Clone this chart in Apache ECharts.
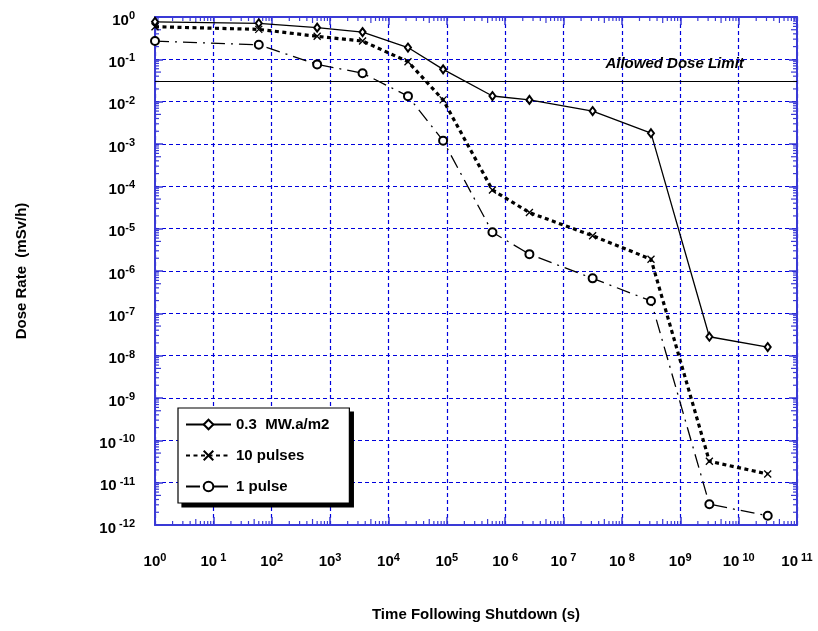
<!DOCTYPE html>
<html><head><meta charset="utf-8">
<script src="https://cdn.jsdelivr.net/npm/echarts@6/dist/echarts.min.js"></script>
<style>html,body{margin:0;padding:0;background:#fff}#c{width:818px;height:631px}</style>
</head><body><div id="c"></div>
<script>
const times = [1, 60, 600, 3600, 21600, 86400, 604800, 2.6e6, 3.15e7, 3.15e8, 3.15e9, 3.15e10];
const seriesNames = ['0.3  MW.a/m2', '10 pulses', '1 pulse'];
const doseFluence = [0.77, 0.71, 0.56, 0.44, 0.19, 0.058, 0.0136, 0.011, 0.006, 1.8e-3, 2.8e-8, 1.6e-8];
const dose10Pulses = [0.59, 0.51, 0.35, 0.27, 0.088, 0.011, 8.2e-5, 2.4e-5, 6.8e-6, 1.9e-6, 3.2e-11, 1.6e-11];
const dose1Pulse = [0.27, 0.22, 0.076, 0.047, 0.0135, 1.2e-3, 8.2e-6, 2.5e-6, 6.7e-7, 1.96e-7, 3.1e-12, 1.65e-12];
const doseLimit = 0.028;
const doseLimitLabel = 'Allowed Dose Limit';
const xTitle = 'Time Following Shutdown (s)';
const yTitle = 'Dose Rate  (mSv/h)';
const xMin = 1, xMax = 1e11, yMin = 1e-12, yMax = 1;
const spacedExponents = [1, 6, 7, 8, 10, 11, -10, -11, -12];

const FONT = '"Liberation Sans", Arial, sans-serif';
const AXIS_BLUE = '#3a3ad6';
const GRID_BLUE = '#0000dd';

function pairs(ys) { return times.map((t, i) => [t, ys[i]]); }
function expLabel(v) {
  const e = Math.round(Math.log10(v));
  return '{b|10}{s|' + (spacedExponents.indexOf(e) >= 0 ? ' ' : '') + e + '}';
}
const rich = {
  b: { fontFamily: FONT, fontWeight: 'bold', fontSize: 15, color: '#000' },
  s: { fontFamily: FONT, fontWeight: 'bold', fontSize: 11, color: '#000', verticalAlign: 'top', padding: [0, 0, 9, 0] }
};

const chart = echarts.init(document.getElementById('c'), null, { renderer: 'canvas' });
const gridPos = { left: 155, right: 21, top: 17, bottom: 106 };

function xAxisCfg(main) {
  return {
    type: 'log', logBase: 10, min: xMin, max: xMax, interval: 1,
    position: main ? 'bottom' : 'top',
    name: main ? xTitle : '', nameLocation: 'middle', nameGap: 82,
    nameTextStyle: { fontFamily: FONT, fontWeight: 'bold', fontSize: 15, color: '#000' },
    axisLine: { show: true, onZero: false, lineStyle: { color: AXIS_BLUE, width: 2 } },
    axisTick: { show: true, inside: true, length: 8, lineStyle: { color: AXIS_BLUE, width: 1.5 } },
    axisLabel: main ? { show: true, margin: 27, formatter: expLabel, rich: rich } : { show: false },
    splitLine: main ? { show: true, lineStyle: { color: GRID_BLUE, width: 1.2, type: [4, 3] } } : { show: false }
  };
}
function yAxisCfg(main) {
  return {
    type: 'log', logBase: 10, min: yMin, max: yMax, interval: 1,
    position: main ? 'left' : 'right',
    name: main ? yTitle : '', nameLocation: 'middle', nameGap: 126,
    nameTextStyle: { fontFamily: FONT, fontWeight: 'bold', fontSize: 15, color: '#000' },
    axisLine: { show: true, onZero: false, lineStyle: { color: AXIS_BLUE, width: 2 } },
    axisTick: { show: true, inside: true, length: 8, lineStyle: { color: AXIS_BLUE, width: 1.5 } },
    axisLabel: main ? { show: true, margin: 20, padding: [7, 0, 0, 0], formatter: expLabel, rich: rich } : { show: false },
    splitLine: main ? { show: true, lineStyle: { color: GRID_BLUE, width: 1.2, type: [4, 3] } } : { show: false }
  };
}

const option = {
  animation: false,
  backgroundColor: '#fff',
  grid: gridPos,
  xAxis: [xAxisCfg(true), xAxisCfg(false)],
  yAxis: [yAxisCfg(true), yAxisCfg(false)],
  legend: {
    orient: 'vertical', left: 178, top: 408, z: 10,
    padding: [9, 20, 9, 7], itemGap: 16, itemWidth: 45, itemHeight: 12,
    backgroundColor: '#fff', borderColor: '#000', borderWidth: 1.2,
    textStyle: { fontFamily: FONT, fontWeight: 'bold', fontSize: 15, color: '#000' },
    data: seriesNames
  },
  series: [
    {
      name: seriesNames[0], type: 'line', data: pairs(doseFluence),
      symbol: 'emptyDiamond', symbolSize: [6, 8],
      lineStyle: { color: '#000', width: 1.3, type: 'solid' },
      itemStyle: { color: '#000', borderColor: '#000', borderWidth: 1 },
      z: 5,
      markLine: {
        silent: true, symbol: ['none', 'none'],
        lineStyle: { color: '#000', width: 1, type: 'solid' },
        label: { show: false },
        data: [{ yAxis: doseLimit }]
      },
      markPoint: {
        symbol: 'circle', symbolSize: 0,
        label: { show: true, position: 'inside', formatter: doseLimitLabel, fontFamily: FONT, fontStyle: 'italic', fontWeight: 'bold', fontSize: 15, color: '#000' },
        data: [{ coord: [8e8, 0.08] }]
      }
    },
    {
      name: seriesNames[1], type: 'line', data: pairs(dose10Pulses),
      symbol: 'path://M0,0L10,10M10,0L0,10', symbolSize: 7,
      lineStyle: { color: '#000', width: 3.2, type: [4, 3.5] },
      itemStyle: { color: '#000', borderColor: '#000', borderWidth: 1.3 },
      z: 4
    },
    {
      name: seriesNames[2], type: 'line', data: pairs(dose1Pulse),
      symbol: 'emptyCircle', symbolSize: 8,
      lineStyle: { color: '#000', width: 1.3, type: [14, 6, 2, 6] },
      itemStyle: { color: '#000', borderColor: '#000', borderWidth: 1 },
      z: 3
    }
  ]
};
chart.setOption(option);

function extras() {
  const els = [];
  const pt = (x, y) => chart.convertToPixel({ gridIndex: 0 }, [x, y]);
  const L = 155, R = 818 - 21, T = 17, B = 631 - 106;
  const st = { stroke: AXIS_BLUE, lineWidth: 1.2 };
  for (let k = 0; k < 11; k++) {
    for (let m = 2; m <= 9; m++) {
      const x = pt(m * Math.pow(10, k), 1)[0];
      const len = m === 5 ? 6 : 4;
      els.push({ type: 'line', silent: true, z: 3, shape: { x1: x, y1: B, x2: x, y2: B - len }, style: st });
      els.push({ type: 'line', silent: true, z: 3, shape: { x1: x, y1: T, x2: x, y2: T + len }, style: st });
    }
  }
  for (let k = -12; k < 0; k++) {
    for (let m = 2; m <= 9; m++) {
      const y = pt(1, m * Math.pow(10, k))[1];
      const len = m === 5 ? 6 : 4;
      els.push({ type: 'line', silent: true, z: 3, shape: { x1: L, y1: y, x2: L + len, y2: y }, style: st });
      els.push({ type: 'line', silent: true, z: 3, shape: { x1: R, y1: y, x2: R - len, y2: y }, style: st });
    }
  }
  // legend drop shadow
  const view = chart.getViewOfComponentModel(chart.getModel().getComponent('legend'));
  const rect = view.group.getBoundingRect();
  const gx = view.group.x, gy = view.group.y;
  els.push({ type: 'rect', silent: true, z: 9, shape: { x: gx + rect.x + 4, y: gy + rect.y + 4, width: rect.width, height: rect.height }, style: { fill: '#000' } });
  chart.setOption({ graphic: els });
}
extras();
</script>
</body></html>
